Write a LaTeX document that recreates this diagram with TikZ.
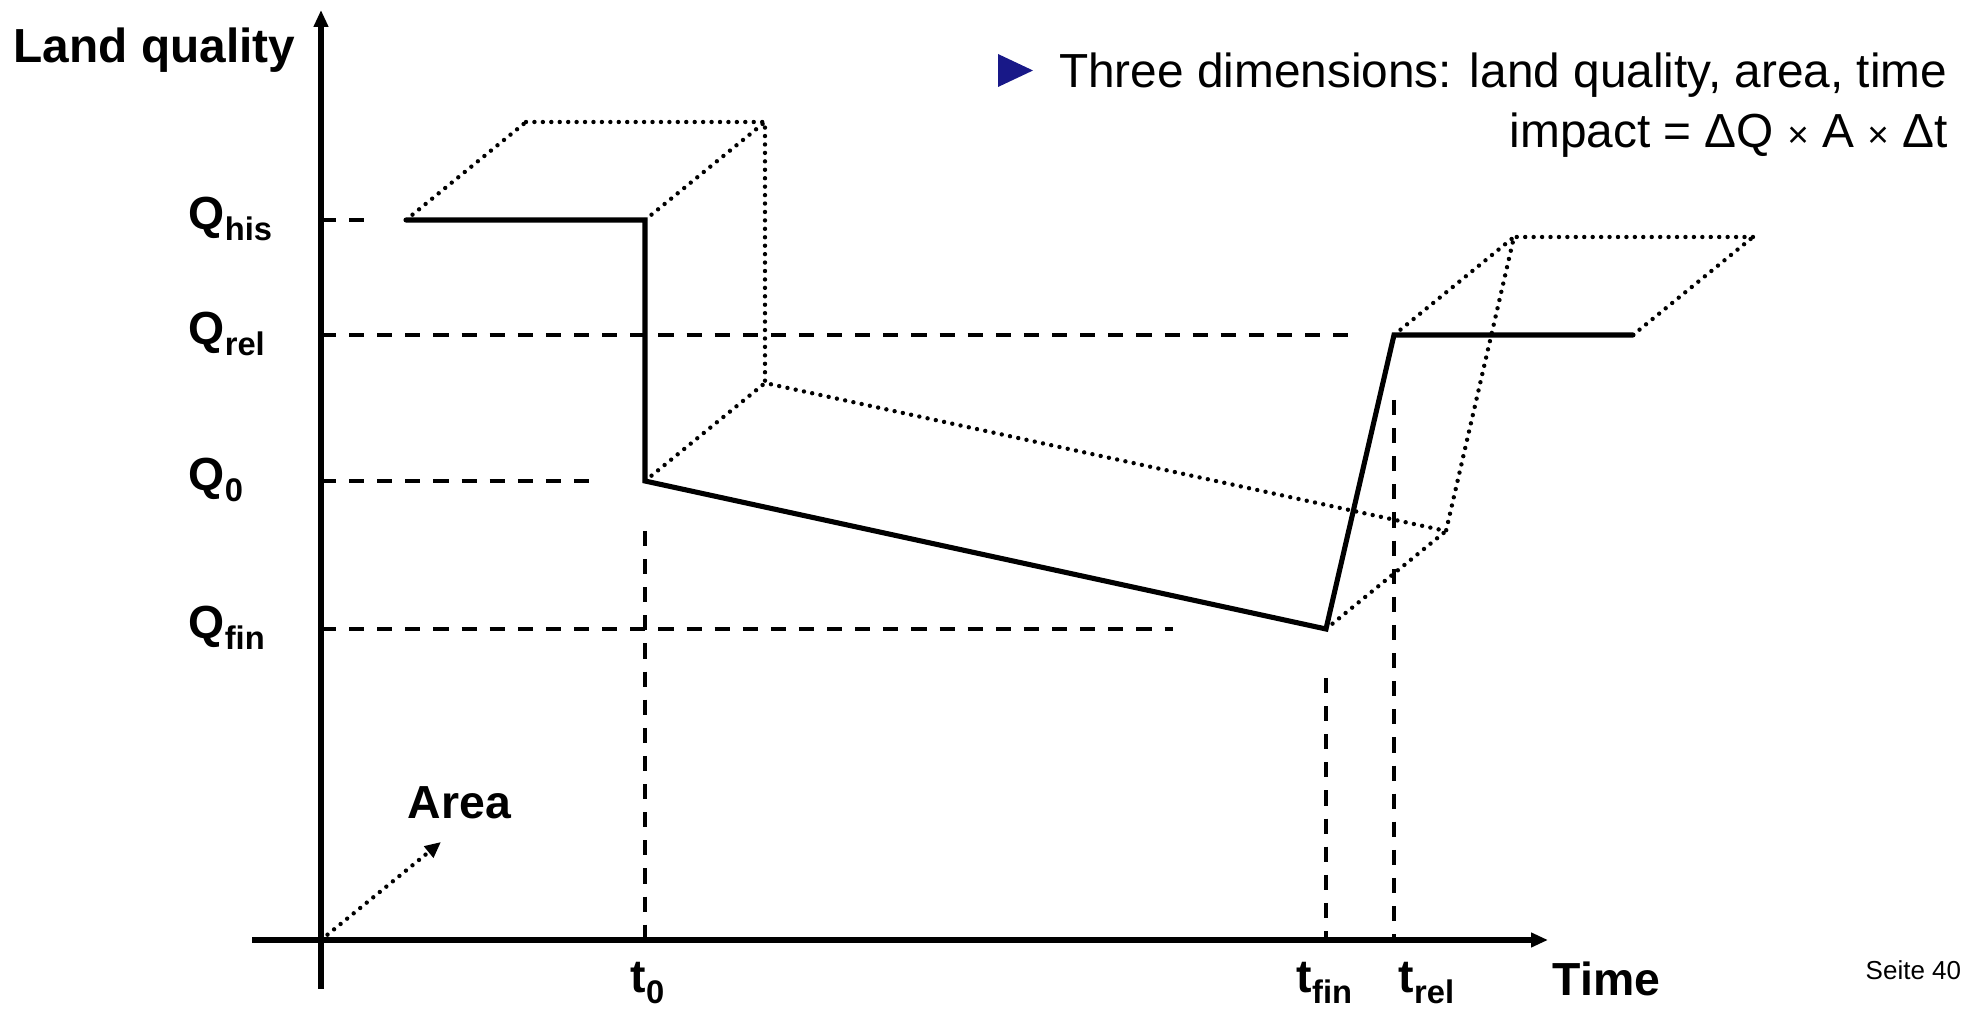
\documentclass[tikz,border=0pt]{standalone}
\usepackage{fontspec}
\setmainfont{Liberation Sans}
\usetikzlibrary{arrows.meta}
\definecolor{bulletblue}{RGB}{24,24,136}
\newcommand{\qsub}[1]{\raisebox{-0.22em}{\fontsize{9.3}{10}\selectfont #1}}
\newcommand{\smalltimes}{{\fontsize{10.5}{12}\selectfont ×}}

\begin{document}
\begin{tikzpicture}[x=1cm,y=1cm,
  every node/.style={inner sep=0pt,anchor=base west,font=\fontsize{13.2}{15}\selectfont\bfseries},
  axis/.style={line width=1.5pt,-{Triangle[length=0.17cm,width=0.14cm]}},
  level/.style={line width=1.15pt,dash pattern=on 4.3pt off 3.7pt},
  prism/.style={line width=1.25pt,dash pattern=on 0pt off 2.4pt,line cap=round},
  quality/.style={line width=1.45pt,line cap=round}]
  \useasboundingbox (0,0) rectangle (19.76,10.10);
  % axes
  \coordinate (o) at (3.21,0.70);
  \draw[axis] (3.21,0.21) -- (3.21,10.00);
  \draw[axis] (2.52,0.70) -- (15.48,0.70);
  \draw[prism,-{Triangle[length=0.16cm,width=0.14cm]}] (o) -- ++(1.20,0.98);
  % quality levels and time marks
  \foreach \lab/\y/\xe in {his/7.90/3.64, rel/6.75/13.60, 0/5.29/5.89, fin/3.81/11.73} {
    \draw[level] (3.21,\y) -- (\xe,\y);
    \node at (1.88,\y-0.10) {Q\qsub{\lab}};
  }
  \foreach \lab/\x/\yt/\xl in {0/6.45/4.79/6.30, fin/13.26/3.32/12.96, rel/13.94/6.10/13.98} {
    \draw[level] (\x,\yt) -- (\x,0.70);
    \node at (\xl,0.17) {t\qsub{\lab}};
  }
  % land quality over time
  \coordinate (a) at (4.06,7.90);
  \coordinate (b) at (6.45,7.90);
  \coordinate (c) at (6.45,5.29);
  \coordinate (d) at (13.26,3.81);
  \coordinate (e) at (13.94,6.75);
  \coordinate (f) at (16.33,6.75);
  \foreach \p in {a,b,c,d,e,f} {
    \path (\p) ++(1.20,0.98) coordinate (\p2);
    \draw[prism] (\p) -- (\p2);
  }
  \draw[prism] (a2) -- (b2) -- (c2) -- (d2) -- (e2) -- (f2);
  \draw[quality] (a) -- (b) -- (c) -- (d) -- (e) -- (f);
  % labels
  \node[font=\fontsize{13.6}{16}\selectfont\bfseries] at (0.13,9.47) {Land quality};
  \node at (4.07,1.91) {Area};
  \node at (15.52,0.14) {Time};
  \node[font=\fontsize{7.4}{9}\selectfont] at (18.65,0.30) {Seite 40};
  \fill[bulletblue] (9.98,9.56) -- (9.98,9.23) -- (10.33,9.395) -- cycle;
  \node[anchor=base east,font=\fontsize{13.6}{16}\selectfont] at (19.48,9.22) {Three dimensions: land quality, area, time};
  \node[anchor=base east,font=\fontsize{13.6}{16}\selectfont] at (19.48,8.62) {impact = ΔQ \smalltimes{} A \smalltimes{} Δt};
\end{tikzpicture}
\end{document}
